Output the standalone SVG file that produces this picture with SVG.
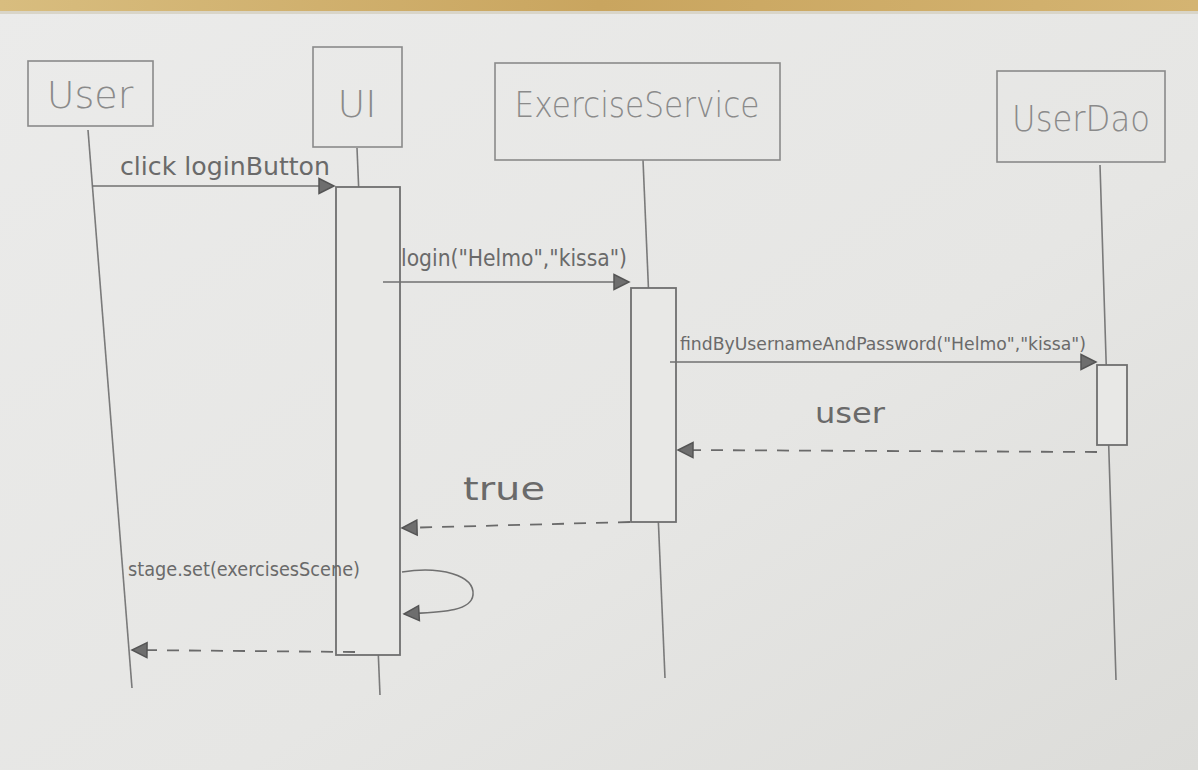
<svg xmlns="http://www.w3.org/2000/svg" width="1198" height="770" viewBox="0 0 1198 770">
<defs>
<linearGradient id="paper" x1="0" y1="0" x2="1" y2="1">
<stop offset="0" stop-color="#ebebea"/>
<stop offset="0.6" stop-color="#e6e6e4"/>
<stop offset="1" stop-color="#dcdcd9"/>
</linearGradient>
<linearGradient id="wood" x1="0" y1="0" x2="1" y2="0">
<stop offset="0" stop-color="#d8bd7f"/>
<stop offset="0.5" stop-color="#c9a55f"/>
<stop offset="1" stop-color="#d4b472"/>
</linearGradient>
<marker id="arr" viewBox="0 0 12 12" refX="11" refY="6" markerWidth="18" markerHeight="18" markerUnits="userSpaceOnUse" orient="auto">
<path d="M1,1 L11,6 L1,11 Z" fill="#6e6e6e" stroke="#555" stroke-width="1"/>
</marker>
<style>
.box{fill:none;stroke:#8a8a8a;stroke-width:1.6}
.life{fill:none;stroke:#7a7a7a;stroke-width:1.6}
.act{fill:#e8e8e6;stroke:#6f6f6f;stroke-width:1.8}
.msg{fill:none;stroke:#707070;stroke-width:1.6}
.ret{fill:none;stroke:#6a6a6a;stroke-width:1.8;stroke-dasharray:12 10}
.title{font-family:"DejaVu Sans",sans-serif;font-weight:200;fill:#8a8a8a}
.lbl{font-family:"DejaVu Sans Condensed","DejaVu Sans",sans-serif;fill:#6a6a6a}
</style>
</defs>
<rect width="1198" height="770" fill="url(#paper)"/>
<rect width="1198" height="11" fill="url(#wood)"/>
<rect x="0" y="11" width="1198" height="3" fill="#d9d5c8"/>

<g id="lifelines">
<path class="life" d="M88,130 L132,688"/>
<path class="life" d="M357,148 L380,695"/>
<path class="life" d="M643,160 L665,678"/>
<path class="life" d="M1100,165 L1116,680"/>
</g>

<g id="node-user">
<rect class="box" x="28" y="61" width="125" height="65"/>
<text class="title" x="90" y="108" font-size="38" text-anchor="middle">User</text>
</g>
<g id="node-ui">
<rect class="box" x="313" y="47" width="89" height="100"/>
<text class="title" x="357" y="117" font-size="38" text-anchor="middle">UI</text>
</g>
<g id="node-exerciseservice">
<rect class="box" x="495" y="63" width="285" height="97"/>
<text class="title" x="637" y="117" font-size="36" text-anchor="middle" textLength="245" lengthAdjust="spacingAndGlyphs">ExerciseService</text>
</g>
<g id="node-userdao">
<rect class="box" x="997" y="71" width="168" height="91"/>
<text class="title" x="1081" y="131" font-size="36" text-anchor="middle" textLength="138" lengthAdjust="spacingAndGlyphs">UserDao</text>
</g>

<g id="activations">
<rect class="act" x="336" y="187" width="64" height="468"/>
<rect class="act" x="631" y="288" width="45" height="234"/>
<rect class="act" x="1097" y="365" width="30" height="80"/>
</g>

<g id="connectors">
<path class="msg" d="M92,186 L334,186" marker-end="url(#arr)"/>
<path class="msg" d="M383,282 L629,282" marker-end="url(#arr)"/>
<path class="msg" d="M670,362 L1096,362" marker-end="url(#arr)"/>
<path class="ret" d="M1097,452 L678,450" marker-end="url(#arr)"/>
<path class="ret" d="M630,522 L402,528" marker-end="url(#arr)"/>
<path class="msg" d="M402,572 C440,566 475,575 473,595 C471,612 440,612 404,614" marker-end="url(#arr)"/>
<path class="ret" d="M355,652 L132,650" marker-end="url(#arr)"/>
</g>

<g id="labels">
<text class="lbl" x="120" y="175" font-size="25" textLength="210" lengthAdjust="spacingAndGlyphs">click loginButton</text>
<text class="lbl" x="401" y="266" font-size="23" textLength="226" lengthAdjust="spacingAndGlyphs">login("Helmo","kissa")</text>
<text class="lbl" x="680" y="350" font-size="18" fill="#808080" textLength="406" lengthAdjust="spacingAndGlyphs">findByUsernameAndPassword("Helmo","kissa")</text>
<text class="lbl" x="815" y="423" font-size="28" textLength="70" lengthAdjust="spacingAndGlyphs">user</text>
<text class="lbl" x="463" y="500" font-size="32" textLength="82" lengthAdjust="spacingAndGlyphs">true</text>
<text class="lbl" x="128" y="576" font-size="19" textLength="232" lengthAdjust="spacingAndGlyphs">stage.set(exercisesScene)</text>
</g>
</svg>
